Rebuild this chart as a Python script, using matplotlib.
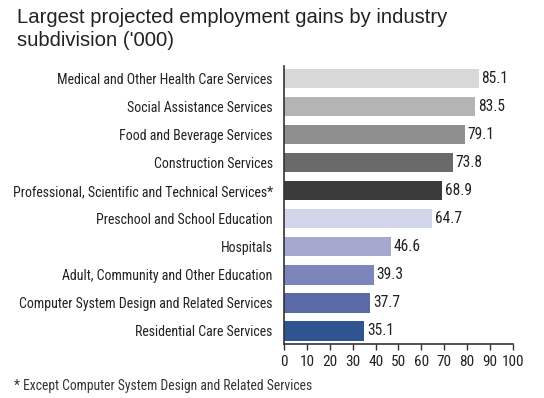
import matplotlib
matplotlib.use("Agg")
import matplotlib.pyplot as plt
from matplotlib import font_manager

categories = [
    "Medical and Other Health Care Services",
    "Social Assistance Services",
    "Food and Beverage Services",
    "Construction Services",
    "Professional, Scientific and Technical Services*",
    "Preschool and School Education",
    "Hospitals",
    "Adult, Community and Other Education",
    "Computer System Design and Related Services",
    "Residential Care Services",
]
values = [85.1, 83.5, 79.1, 73.8, 68.9, 64.7, 46.6, 39.3, 37.7, 35.1]
colors = ["#d8d8d8", "#b4b4b4", "#8f8f8f", "#6a6a6a", "#3b3a3c",
          "#d3d5ea", "#a6a9cd", "#7d86ba", "#5a6aa6", "#2e5592"]
xticks = list(range(0, 101, 10))

names = {f.name for f in font_manager.fontManager.ttflist}
narrow = None
for cand in ["Liberation Sans Narrow", "Roboto Condensed", "Open Sans Condensed"]:
    if cand in names:
        narrow = cand
        break
regular = "Liberation Sans" if "Liberation Sans" in names else "DejaVu Sans"
if narrow is None:
    narrow = regular
    lab_fs, val_fs, tick_fs, foot_fs = 8.6, 9.6, 9.6, 8.2
else:
    lab_fs, val_fs, tick_fs, foot_fs = 10.0, 11.2, 11, 9.8

fig = plt.figure(figsize=(5.44, 3.98), dpi=100)
ax = fig.add_axes([0.522, 0.136, 0.421, 0.698])

y = list(range(len(categories)))
ax.barh(y, values, height=0.7, color=colors)
for yi, v in zip(y, values):
    ax.text(v + 1.2, yi, f"{v:.1f}", va="center", ha="left",
            fontsize=val_fs, family=narrow, color="#222222")

ax.set_ylim(9.47, -0.45)
ax.set_xlim(0, 100)
ax.set_yticks(y)
ax.set_yticklabels(categories, family=narrow, fontsize=lab_fs, color="#222222")
ax.tick_params(axis="y", length=0, pad=8)
ax.set_xticks(xticks)
ax.set_xticklabels([str(t) for t in xticks], family=narrow, fontsize=tick_fs, color="#222222")
ax.tick_params(axis="x", length=4, width=1, color="#333333", pad=4)
for s in ["top", "right"]:
    ax.spines[s].set_visible(False)
ax.spines["left"].set_color("#333333")
ax.spines["bottom"].set_color("#333333")
ax.spines["left"].set_linewidth(1.2)
ax.spines["bottom"].set_linewidth(1.2)

fig.text(0.031, 0.98, "Largest projected employment gains by industry\nsubdivision ('000)",
         ha="left", va="top", fontsize=14.6, family=regular, color="#222222",
         linespacing=1.25)
fig.text(0.026, 0.03, "* Except Computer System Design and Related Services",
         ha="left", va="center", fontsize=foot_fs, family=narrow, color="#333333")

fig.savefig("out.png", dpi=100)
